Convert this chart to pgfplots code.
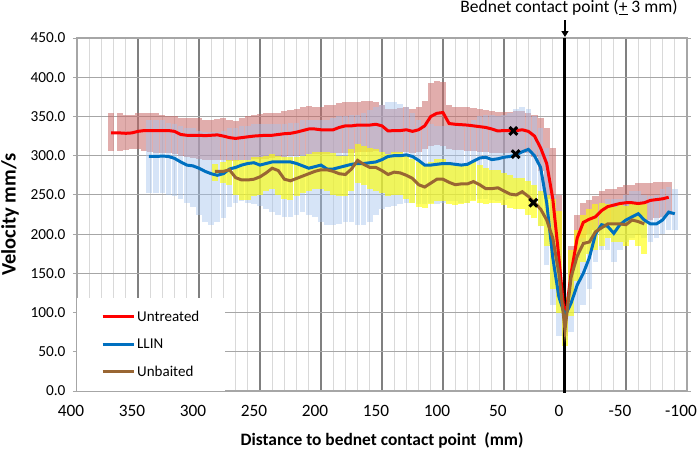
\documentclass[border=0pt]{standalone}
\usepackage{fontspec}
\setmainfont{Carlito}
\usepackage{pgfplots}
\pgfplotsset{compat=1.18}
\usepackage{pgfplotstable}
\usetikzlibrary{arrows.meta}

\definecolor{cred}{RGB}{255,0,0}
\definecolor{cblue}{RGB}{0,112,192}
\definecolor{cbrown}{RGB}{153,102,51}
\definecolor{bred}{RGB}{200,105,103}
\definecolor{bblue}{RGB}{165,196,238}
\definecolor{byel}{RGB}{255,255,0}
\definecolor{gmaj}{RGB}{128,128,128}
\definecolor{gmin}{RGB}{217,217,217}
\definecolor{gy}{RGB}{166,166,166}

% x  mean  lo  hi
\pgfplotstableread{
x m lo hi
372 329 306 354
365 329 306 354
360 328.5 307 352
355 329 308 352
350 331 308 354
345 332 306 355
340 332 305 355
335 332 304 354
330 332 303 352
325 332 303 350
320 331 302 350
315 327 300 348
310 326 298 348
305 326 297 348
300 326 296 348
295 325.5 295 346
290 326 295 346
285 326.5 294 347
280 325 294 348
275 323 293 345
270 322 293 344
265 323 294 348
260 324 295 350
255 325 296 352
250 325.5 296 353
245 326 296 354
240 326 297 355
235 327 298 355
230 328 298 357
225 328.5 299 358
220 330 300 360
215 332 301 362
210 334 302 363
205 334 302 362
200 333 302 362
195 333 302 364
190 333 303 365
185 336 303 367
180 338 304 368
175 338 304 369
170 339 305 369
165 339 305 370
160 339 305 370
155 340 306 369
150 338 305 365
145 331.5 302 360
140 332 303 360
135 332 304 361
130 333 305 362
125 331 304 360
120 333 305 362
115 338 308 370
110 350 312 393
105 354 313 395
100 355 312 394
95 341 308 365
90 340 307 362
85 339.5 307 362
80 339 306 362
75 338 306 361
70 337 305 360
65 336 305 358
60 334 304 357
55 331.5 303 356
50 332 303 356
45 332 304 356
40 332 305 357
35 333 305 357
30 331 304 355
25 325 298 352
20 310 280 348
15 290 245 335
10 245 190 310
5 170 120 250
0 88 70 120
-5 150 120 185
-10 195 170 225
-15 215 190 240
-20 219 200 243
-25 222 205 248
-30 230 210 255
-35 235 212 258
-40 237 213 258
-45 239 214 260
-50 240 215 262
-55 240 215 262
-60 239 215 265
-65 240 217 265
-70 243 218 265
-75 244 220 266
-80 245 222 266
-85 247 224 266
}\redT

\pgfplotstableread{
x m lo hi
341 299 252 345
335 299 252 345
330 299.5 252 345
325 299 250 342
320 296.5 248 340
315 292 245 338
310 288 240 335
305 287 235 335
300 284 225 332
295 280 215 330
290 277 212 330
285 275 215 330
280 277 220 332
275 283 235 335
270 285 240 335
265 288 242 338
260 290 240 338
255 291 238 340
250 288 236 340
245 290 232 340
240 292 228 340
235 292 225 340
230 292 222 340
225 292 222 342
220 290 225 342
215 287 228 345
210 284 225 345
205 286 222 345
200 288 215 345
195 283 212 345
190 283 212 348
185 285 213 350
180 287 215 350
175 289 215 352
170 290 212 352
165 290 212 355
160 291 215 358
155 292 225 362
150 295 232 365
145 299 235 368
140 300 236 368
135 300 238 366
130 301 240 362
125 299 240 355
120 294 238 345
115 288 238 340
110 288 240 340
105 289 238 338
100 290 240 338
95 290 242 338
90 289 242 340
85 288 240 340
80 289 240 342
75 293 243 345
70 297 245 350
65 298 245 352
60 295 243 352
55 296 242 350
50 298 243 352
45 299 245 355
40 301 247 360
35 305 250 362
30 308 248 360
25 300 235 350
20 285 210 335
15 240 160 310
10 170 110 250
5 120 70 180
0 96 65 125
-5 112 75 150
-10 135 100 170
-15 150 110 195
-20 170 130 215
-25 200 165 230
-30 212 180 240
-35 210 180 245
-40 201 165 245
-45 212 180 245
-50 218 190 250
-55 222 195 255
-60 226 200 255
-65 218 195 250
-70 213 190 248
-75 213 195 250
-80 218 200 258
-85 228 205 260
-90 226 205 258
}\blueT

\pgfplotstableread{
x m lo hi
287 280 268 290
280 280 265 292
275 282 262 295
270 272 250 295
265 269 243 295
260 269 243 295
255 270 248 298
250 273 250 298
245 278 255 300
240 284 258 302
235 281 250 300
230 270 245 298
225 268 243 298
220 271 248 298
215 274 252 300
210 277 255 302
205 280 258 305
200 282 258 305
195 282 255 305
190 280 250 303
185 277 248 300
180 276 248 300
175 283 255 308
170 294 265 315
165 289 262 312
160 285 258 310
155 285 255 308
150 281 252 305
145 276 248 302
140 279 250 305
135 278 250 305
130 275 245 300
125 271 240 296
120 263 235 292
115 260 233 290
110 265 238 292
105 270 242 296
100 270 242 296
95 266 238 292
90 263 237 290
85 264 238 290
80 264 240 290
75 267 242 292
70 263 240 288
65 258 238 284
60 258 240 282
55 259 240 282
50 255 237 278
45 251 233 275
40 250 232 272
35 254 232 272
30 248 225 268
25 240 220 262
20 232 210 255
15 218 185 250
10 195 130 245
5 150 100 230
0 78 58 120
-5 145 95 180
-10 172 140 205
-15 188 165 225
-20 190 175 232
-25 203 180 238
-30 208 185 240
-35 213 195 238
-40 213 190 235
-45 213 190 238
-50 212 185 236
-55 218 192 240
-60 216 185 238
-65 213 175 238
}\brownT

\begin{document}
\begin{tikzpicture}
\path[use as bounding box] (-77pt,-60pt) rectangle (620pt,391pt);
\begin{axis}[
  at={(0pt,0pt)}, anchor=south west,
  scale only axis,
  width=610pt, height=353pt,
  x dir=reverse,
  xmin=-100, xmax=400,
  ymin=0, ymax=450,
  xtick={-100,-50,...,400},
  ytick={0,50,...,450},
  minor x tick num=4,
  grid=both,
  major x grid style={gmaj, line width=1.6pt},
  minor x grid style={gmin, line width=0.9pt},
  major y grid style={gy, line width=1.1pt},
  axis line style={gy, line width=1.1pt},
  tick align=outside,
  major tick length=4pt,
  minor tick length=0pt,
  xtick style={draw=none},
  ytick style={gy, line width=0.8pt},
  /pgf/number format/assume math mode=true,
  yticklabel style={font=\fontsize{15.3}{17}\selectfont, xshift=-4pt, /pgf/number format/.cd, fixed, fixed zerofill, precision=1},
  xticklabel style={font=\fontsize{17.3}{19}\selectfont, xshift=-6pt, yshift=-7pt, /pgf/number format/.cd, fixed, precision=0},
  xlabel={Distance to bednet contact point\ \ (mm)},
  ylabel={Velocity mm/s},
  xlabel style={font=\fontsize{17.4}{19}\selectfont\bfseries, at={(axis description cs:0.5,-0.139)}, anchor=center},
  ylabel style={font=\fontsize{20.5}{22}\selectfont\bfseries, at={(axis description cs:-0.1098,0.5)}, anchor=center},
  clip=false,
  legend style={at={(0,0)}, anchor=south west, draw=none, fill=white,
    font=\fontsize{15}{17}\selectfont, inner xsep=24pt, inner ysep=11pt,
    row sep=12pt, legend cell align=left},
  legend image code/.code={\draw[#1, line width=3pt] (0pt,0pt) -- (31pt,0pt);},
]
% range bars
\addplot[draw=none, mark=none, forget plot,
  error bars/.cd, y dir=plus, y explicit, error mark=none,
  error bar style={draw=bred, line width=6.1pt, opacity=0.55}]
  table[x=x, y=lo, y error expr=\thisrow{hi}-\thisrow{lo}] {\redT};
\addplot[draw=none, mark=none, forget plot,
  error bars/.cd, y dir=plus, y explicit, error mark=none,
  error bar style={draw=bblue, line width=5.6pt, opacity=0.45}]
  table[x=x, y=lo, y error expr=\thisrow{hi}-\thisrow{lo}] {\blueT};
\addplot[draw=none, mark=none, forget plot,
  error bars/.cd, y dir=plus, y explicit, error mark=none,
  error bar style={draw=byel, line width=6pt, opacity=0.62}]
  table[x=x, y=lo, y error expr=\thisrow{hi}-\thisrow{lo}] {\brownT};

\draw[black, line width=3pt] (axis cs:0,-2) -- (axis cs:0,450);

\addplot[cred, line width=3pt, mark=none] table[x=x, y=m] {\redT};
\addlegendentry{Untreated}
\addplot[cblue, line width=3pt, mark=none] table[x=x, y=m] {\blueT};
\addlegendentry{LLIN}
\addplot[cbrown, line width=3pt, mark=none] table[x=x, y=m] {\brownT};
\addlegendentry{Unbaited}

\addplot[only marks, forget plot, mark=x, mark size=5.5pt, black, line width=3pt]
  coordinates {(42.3,331.5) (40.4,302) (26,240)};

\node[font=\fontsize{17.5}{19}\selectfont] at (axis cs:0,450) [xshift=4pt, yshift=30pt] {Bednet contact point (\underline{+} 3 mm)};
\draw[line width=1.6pt, -{Triangle[width=7pt,length=6pt]}] (axis cs:0,450) ++(0pt,18pt) -- ++(0pt,-17pt);
\end{axis}
\end{tikzpicture}
\end{document}
